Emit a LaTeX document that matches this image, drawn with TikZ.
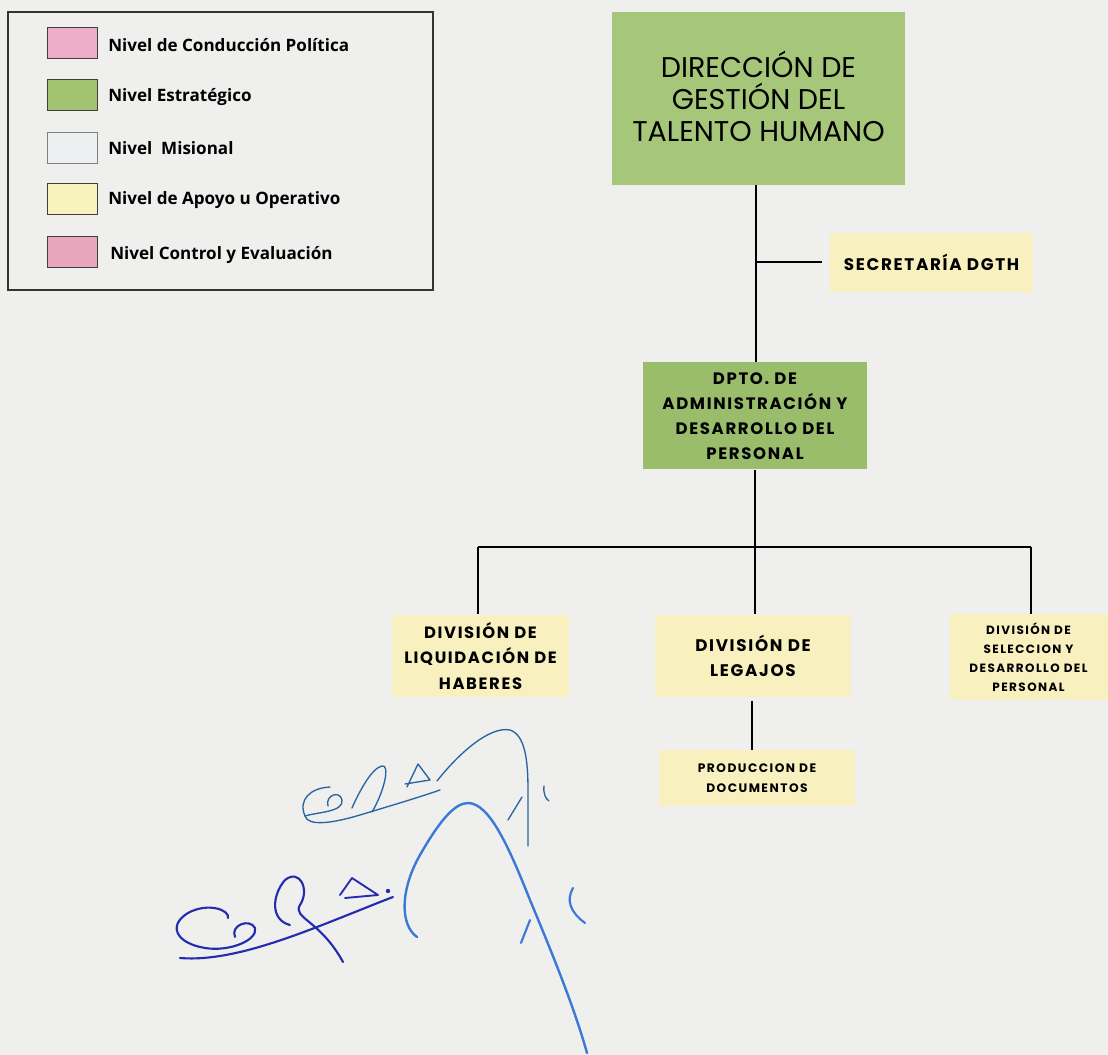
\documentclass[tikz,border=0pt]{standalone}
\usepackage{fontspec}
\setmainfont{Open Sans}
\newfontfamily\legfont{Open Sans}
\newfontfamily\titfont{Poppins}
\newfontfamily\boxfont[LetterSpace=10]{Poppins}
\newfontfamily\smallboxfont[LetterSpace=12]{Poppins}
\definecolor{paper}{RGB}{239,239,238}
\definecolor{gtop}{RGB}{166,199,121}
\definecolor{gmid}{RGB}{154,189,108}
\definecolor{ylw}{RGB}{249,240,192}
\definecolor{pinkA}{RGB}{236,172,202}
\definecolor{pinkB}{RGB}{232,166,188}
\definecolor{greenL}{RGB}{162,196,112}
\definecolor{misio}{RGB}{236,240,240}
\definecolor{ylwL}{RGB}{248,242,190}
\definecolor{sigA}{RGB}{40,100,160}
\definecolor{sigB}{RGB}{35,45,175}
\definecolor{sigC}{RGB}{60,120,215}
\tikzset{
  swatch/.style={draw=black!75,line width=0.6pt,minimum width=37.5pt,minimum height=23pt,inner sep=0pt},
  legtext/.style={anchor=west,font=\legfont\bfseries\fontsize{12.8}{15}\selectfont,inner sep=0pt},
  gbox/.style={inner sep=0pt,align=center},
  conn/.style={line width=1.6pt,black},
  sig/.style={line width=1.2pt,line cap=round,line join=round}
}
\begin{document}
\begin{tikzpicture}[x=0.75pt,y=-0.75pt]
\fill[paper] (0,0) rectangle (1108,1055);
\useasboundingbox (0,0) rectangle (1108,1055);
% legend
\draw[line width=0.8pt,black!80] (8,12) rectangle (433,290);
\node[swatch,fill=pinkA] (s1) at (72,43) {};
\node[swatch,fill=greenL] (s2) at (72,95) {};
\node[swatch,fill=misio,draw=black!50] (s3) at (72,148) {};
\node[swatch,fill=ylwL] (s4) at (72,199) {};
\node[swatch,fill=pinkB] (s5) at (72,252) {};
\node[legtext] (l1) at (108,45) {Nivel de Conducción Política};
\node[legtext] (l2) at (108,97) {Nivel Estratégico};
\node[legtext] (l3) at (108,148) {Nivel\ \ Misional};
\node[legtext] (l4) at (108,200) {Nivel de Apoyo u Operativo};
\node[legtext] (l5) at (110,255) {Nivel Control y Evaluación};
% boxes
\node[gbox,fill=gtop,minimum width=219.75pt,minimum height=129.75pt] (dir) at (758.5,98.5) {};
\node[gbox,font=\titfont\fontsize{21.4}{23.8}\selectfont] (dirtext) at (758.5,96.5) {DIRECCIÓN DE\\GESTIÓN DEL\\TALENTO HUMANO};
\node[gbox,fill=ylw,minimum width=152pt,minimum height=44.25pt,font=\boxfont\bfseries\fontsize{12.6}{14}\selectfont] (sec) at (931.5,262.5) {SECRETARÍA DGTH};
\node[gbox,fill=gmid,minimum width=168pt,minimum height=80.25pt,font=\boxfont\bfseries\fontsize{12.4}{18.8}\selectfont] (dpto) at (755,416) {DPTO. DE\\ADMINISTRACIÓN Y\\DESARROLLO DEL\\PERSONAL};
\node[gbox,fill=ylw,minimum width=133pt,minimum height=62pt,font=\boxfont\bfseries\fontsize{12.3}{18.8}\selectfont] (liq) at (480.5,656) {DIVISIÓN DE\\LIQUIDACIÓN DE\\HABERES};
\node[gbox,fill=ylw,minimum width=147pt,minimum height=62pt,font=\boxfont\bfseries\fontsize{12.6}{18.8}\selectfont] (leg) at (753,656) {DIVISIÓN DE\\LEGAJOS};
\node[gbox,fill=ylw,minimum width=147pt,minimum height=42pt,font=\smallboxfont\bfseries\fontsize{9.2}{15}\selectfont] (prod) at (757,778) {PRODUCCION DE\\DOCUMENTOS};
\node[gbox,fill=ylw,minimum width=118.5pt,minimum height=64pt,font=\smallboxfont\bfseries\fontsize{9}{14.3}\selectfont] (sel) at (1028.5,657) {DIVISIÓN DE\\SELECCION Y\\DESARROLLO DEL\\PERSONAL};
% connectors
\coordinate (jsec) at (756,262);
\coordinate (bus) at (755,547);
\draw[conn] (dir.south -| 756,0) -- (dpto.north -| 756,0);
\draw[conn] (jsec) -- (822,262);
\draw[conn] (dpto.south -| 755,0) -- (bus);
\draw[conn] (478,547) -- (1031,547);
\draw[conn] (478,547) -- (liq.north -| 478,0);
\draw[conn] (bus) -- (leg.north -| 755,0);
\draw[conn] (1031,547) -- (sel.north -| 1031,0);
\draw[conn] (leg.south -| 752,0) ++(0,3) -- (prod.north -| 752,0);
% signatures (upper)
\draw[sig,sigA,line width=1pt] (328,806) .. controls (325,795) and (340,790) .. (342,800) .. controls (344,812) and (318,812) .. (305,816) .. controls (298,800) and (310,788) .. (330,787);
\draw[sig,sigA,line width=1pt] (305,816) .. controls (308,826) and (330,824) .. (360,815) .. controls (390,806) and (420,797) .. (440,790);
\draw[sig,sigA,line width=1pt] (352,808) .. controls (360,790) and (372,768) .. (382,766) .. controls (390,764) and (385,790) .. (372,812);
\draw[sig,sigA,line width=1pt] (407,787) -- (418,764) -- (430,780) -- (405,784);
\draw[sig,sigA,line width=1pt] (437,781) .. controls (460,752) and (490,726) .. (510,730) .. controls (525,735) and (528,760) .. (528,790) -- (528,846);
\draw[sig,sigA,line width=1pt] (508,820) -- (522,797);
\draw[sig,sigA,line width=1pt] (544,786) .. controls (543,794) and (546,799) .. (549,801);
% signatures (lower)
\draw[sig,sigB,line width=1.6pt] (235,937) .. controls (230,925) and (250,918) .. (255,928) .. controls (258,940) and (230,952) .. (205,948) .. controls (175,943) and (168,925) .. (188,913) .. controls (208,902) and (230,910) .. (228,918);
\draw[sig,sigB,line width=1.6pt] (180,958) .. controls (240,963) and (320,925) .. (393,897);
\draw[sig,sigB,line width=1.6pt] (290,925) .. controls (270,920) and (272,895) .. (285,880) .. controls (300,868) and (310,890) .. (300,905) .. controls (292,918) and (320,920) .. (343,962);
\draw[sig,sigB,line width=1.4pt] (340,895) -- (352,878) -- (378,895) -- (345,898);
\fill[sigB] (388,891) circle (2.2);
\draw[sig,sigC,line width=1.8pt] (417,937) .. controls (400,925) and (400,890) .. (420,855) .. controls (440,820) and (455,803) .. (468,803) .. controls (490,803) and (510,850) .. (530,900) .. controls (555,960) and (575,1010) .. (587,1053);
\draw[sig,sigC,line width=1.6pt] (521,943) -- (530,920);
\draw[sig,sigC,line width=1.6pt] (573,888) .. controls (566,900) and (570,912) .. (585,923);
\end{tikzpicture}
\end{document}
